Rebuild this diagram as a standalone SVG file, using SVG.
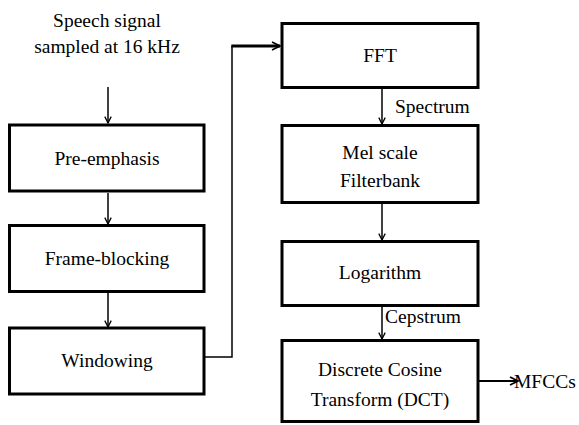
<svg xmlns="http://www.w3.org/2000/svg" width="579" height="425" viewBox="0 0 579 425" font-family="Liberation Serif, serif" font-size="19.5">
<defs>
<marker id="ah" viewBox="0 0 10 10" refX="9" refY="5" markerWidth="8" markerHeight="8" markerUnits="userSpaceOnUse" orient="auto">
<path d="M1,1 L9,5 L1,9" fill="none" stroke="#000" stroke-width="1.6"/>
</marker>
<marker id="ah2" viewBox="0 0 10 10" refX="9" refY="5" markerWidth="10" markerHeight="10" markerUnits="userSpaceOnUse" orient="auto">
<path d="M1,1 L9,5 L1,9" fill="none" stroke="#000" stroke-width="1.6"/>
</marker>
<rect id="boxL" width="194.5" height="66" fill="#fff" stroke="#000" stroke-width="3"/>
</defs>
<rect width="579" height="425" fill="#fff"/>
<g id="input" text-anchor="middle">
<text x="107" y="27">Speech signal</text>
<text x="107" y="53">sampled at 16 kHz</text>
</g>
<g id="connectors" fill="none" stroke="#000" stroke-width="1.5">
<line x1="108" y1="87" x2="108" y2="123" marker-end="url(#ah)"/>
<line x1="108" y1="193" x2="108" y2="224" marker-end="url(#ah)"/>
<line x1="108" y1="293" x2="108" y2="327" marker-end="url(#ah)"/>
<polyline points="205,357 232,357 232,46"/>
<line x1="231.3" y1="46" x2="280" y2="46" stroke-width="3" marker-end="url(#ah2)"/>
<line x1="382" y1="89" x2="382" y2="124" marker-end="url(#ah)"/>
<line x1="382" y1="204" x2="382" y2="240" marker-end="url(#ah)"/>
<line x1="382" y1="307" x2="382" y2="339" marker-end="url(#ah)"/>
<line x1="479" y1="381" x2="518" y2="381" stroke-width="2.2" marker-end="url(#ah2)"/>
<g fill="#000" stroke="none">
<text x="395" y="113">Spectrum</text>
<text x="385" y="323">Cepstrum</text>
<text x="514" y="388">MFCCs</text>
</g>
</g>
<g id="pre-emphasis" text-anchor="middle">
<use href="#boxL" x="9.5" y="125"/>
<text x="107" y="165">Pre-emphasis</text>
</g>
<g id="frame-blocking" text-anchor="middle">
<use href="#boxL" x="9.5" y="225.5"/>
<text x="107" y="265">Frame-blocking</text>
</g>
<g id="windowing" text-anchor="middle">
<use href="#boxL" x="9.5" y="328"/>
<text x="107" y="367">Windowing</text>
</g>
<g id="fft" text-anchor="middle">
<rect x="282" y="23.5" width="196" height="64" fill="#fff" stroke="#000" stroke-width="3"/>
<text x="380" y="62">FFT</text>
</g>
<g id="mel" text-anchor="middle">
<rect x="282" y="125.5" width="196" height="77" fill="#fff" stroke="#000" stroke-width="3"/>
<text x="380" y="159">Mel scale</text>
<text x="380" y="187">Filterbank</text>
</g>
<g id="logarithm" text-anchor="middle">
<rect x="282" y="241.5" width="196" height="64" fill="#fff" stroke="#000" stroke-width="3"/>
<text x="380" y="279">Logarithm</text>
</g>
<g id="dct" text-anchor="middle">
<rect x="282" y="340.5" width="196" height="81" fill="#fff" stroke="#000" stroke-width="3"/>
<text x="380" y="376">Discrete Cosine</text>
<text x="380" y="406">Transform (DCT)</text>
</g>
</svg>
